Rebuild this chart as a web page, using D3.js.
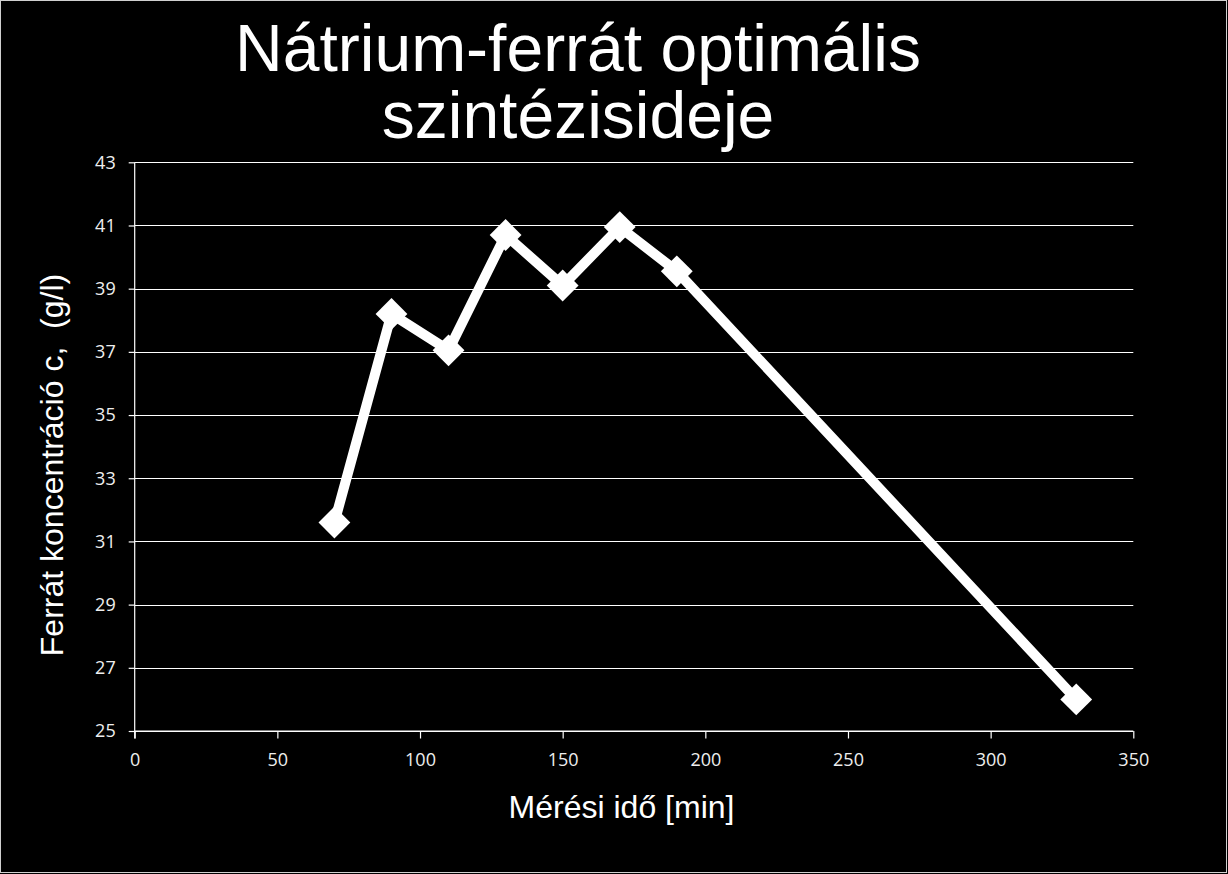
<!DOCTYPE html>
<html>
<head>
<meta charset="utf-8">
<script src="https://cdn.jsdelivr.net/npm/d3@7"></script>
<style>
  html, body { margin: 0; padding: 0; background: #000; }
  svg { display: block; }
</style>
</head>
<body>
<svg id="chart" width="1228" height="874"></svg>
<script>
// ---- data ----
const timesMin = [70, 90, 110, 130, 150, 170, 190, 330];
const concentration = [31.6, 38.2, 37.05, 40.7, 39.1, 40.95, 39.55, 26.0];
const xTicks = [0, 50, 100, 150, 200, 250, 300, 350];
const yTicks = [25, 27, 29, 31, 33, 35, 37, 39, 41, 43];
const titleLines = ["Nátrium-ferrát optimális", "szintézisideje"];
const xTitle = "Mérési idő [min]";
const yTitle = "Ferrát koncentráció c,  (g/l)";

// ---- layout ----
const W = 1228, H = 874;
const plot = { left: 134.7, right: 1133.3, top: 162.3, bottom: 731 };
const svg = d3.select("#chart");

svg.append("rect").attr("x", 0).attr("y", 0).attr("width", W).attr("height", H).attr("fill", "#000");
svg.append("rect").attr("x", 0.5).attr("y", 0.5).attr("width", W - 2).attr("height", H - 2)
  .attr("fill", "none").attr("stroke", "#d0d0d0").attr("stroke-width", 1);

const x = d3.scaleLinear().domain([0, 350]).range([plot.left, plot.right]);
const y = d3.scaleLinear().domain([25, 43]).range([plot.bottom, plot.top]);

const tickFont = "'Open Sans', sans-serif";
const labelColor = "#eeeeee";

// gridlines
svg.append("g")
  .selectAll("line").data(yTicks).join("line")
  .attr("x1", plot.left).attr("x2", plot.right)
  .attr("y1", d => Math.round(y(d)) + 0.5).attr("y2", d => Math.round(y(d)) + 0.5)
  .attr("stroke", "#ffffff").attr("stroke-width", 1.2);

// y axis
const yAxis = svg.append("g")
  .attr("transform", `translate(${plot.left},0)`)
  .call(d3.axisLeft(y).tickValues(yTicks).tickSize(6).tickPadding(13).tickFormat(d3.format("d")));
yAxis.select(".domain").attr("stroke", "#fff").attr("stroke-width", 1.2)
  .attr("d", `M0,${plot.top}V${plot.bottom + 7.5}`);
yAxis.selectAll(".tick line").attr("stroke", "#fff").attr("stroke-width", 1.2);
yAxis.selectAll(".tick text").attr("fill", labelColor).attr("font-family", tickFont).attr("font-size", 18);

// x axis
const xAxis = svg.append("g")
  .attr("transform", `translate(0,${plot.bottom})`)
  .call(d3.axisBottom(x).tickValues(xTicks).tickSize(7.5).tickPadding(15).tickFormat(d3.format("d")));
xAxis.select(".domain").attr("stroke", "#fff").attr("stroke-width", 1.2)
  .attr("d", `M${plot.left},0H${plot.right}`);
xAxis.selectAll(".tick line").attr("stroke", "#fff").attr("stroke-width", 1.2);
xAxis.selectAll(".tick text").attr("fill", labelColor).attr("font-family", tickFont).attr("font-size", 18);

// series
const pts = timesMin.map((t, i) => ({ t, c: concentration[i] }));
const line = d3.line().x(d => x(d.t)).y(d => y(d.c));
svg.append("path").datum(pts)
  .attr("d", line)
  .attr("fill", "none").attr("stroke", "#fff").attr("stroke-width", 10)
  .attr("stroke-linejoin", "miter");

const diamond = d3.symbol().type(d3.symbolSquare).size(22.5 * 22.5);
svg.append("g").selectAll("path").data(pts).join("path")
  .attr("d", diamond)
  .attr("transform", d => `translate(${x(d.t)},${y(d.c)}) rotate(45)`)
  .attr("fill", "#fff");

// titles
const title = svg.append("text")
  .attr("text-anchor", "middle")
  .attr("font-family", "'Liberation Sans', Arial, sans-serif")
  .attr("font-size", 66).attr("fill", "#fff");
title.selectAll("tspan").data(titleLines).join("tspan")
  .attr("x", 578).attr("y", (d, i) => 71 + i * 67).text(d => d);

svg.append("text")
  .attr("x", 621.5).attr("y", 818)
  .attr("text-anchor", "middle")
  .attr("font-family", "'Liberation Sans', Arial, sans-serif")
  .attr("font-size", 32).attr("fill", "#fff")
  .text(xTitle);

svg.append("text")
  .attr("transform", "translate(63,465) rotate(-90)")
  .attr("text-anchor", "middle")
  .attr("font-family", "'Liberation Sans', Arial, sans-serif")
  .attr("font-size", 32).attr("fill", "#fff")
  .style("white-space", "pre")
  .text(yTitle);
</script>
</body>
</html>
